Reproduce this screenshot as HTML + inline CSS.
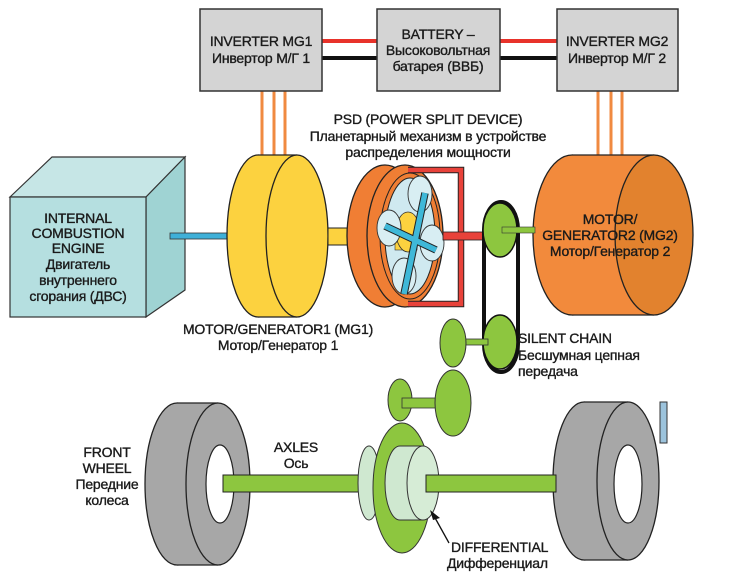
<!DOCTYPE html>
<html><head><meta charset="utf-8"><style>
html,body{margin:0;padding:0;background:#fff;}
svg{display:block;}
text{font-family:"Liberation Sans","DejaVu Sans",sans-serif;font-size:14px;fill:#1a1a1a;stroke:#1a1a1a;stroke-width:0.35;text-anchor:middle;letter-spacing:-0.2px;}
</style></head><body>
<svg width="740" height="579" viewBox="0 0 740 579" xmlns="http://www.w3.org/2000/svg">
<rect width="740" height="579" fill="#fff"/>
<line x1="322" y1="41" x2="377" y2="41" stroke="#e8322a" stroke-width="4"/>
<line x1="322" y1="58" x2="377" y2="58" stroke="#111" stroke-width="4"/>
<line x1="500" y1="41" x2="557" y2="41" stroke="#e8322a" stroke-width="4"/>
<line x1="500" y1="58" x2="557" y2="58" stroke="#111" stroke-width="4"/>
<g stroke="#f08a40" stroke-width="3">
<line x1="262" y1="91" x2="262" y2="158"/><line x1="274" y1="91" x2="274" y2="158"/><line x1="285" y1="91" x2="285" y2="158"/>
<line x1="598" y1="91" x2="598" y2="158"/><line x1="611" y1="91" x2="611" y2="158"/><line x1="622" y1="91" x2="622" y2="158"/>
</g>
<g fill="#d4d4d4" stroke="#333" stroke-width="1.5">
<rect x="200" y="9" width="122" height="82"/>
<rect x="377" y="9" width="123" height="82"/>
<rect x="557" y="9" width="121" height="82"/>
</g>
<text x="261" y="46">INVERTER MG1</text><text x="261" y="63">Инвертор М/Г 1</text>
<text x="438" y="39">BATTERY –</text><text x="438" y="55">Высоковольтная</text><text x="438" y="71">батарея (ВВБ)</text>
<text x="617" y="46">INVERTER MG2</text><text x="617" y="63">Инвертор М/Г 2</text>
<text x="428" y="124">PSD (POWER SPLIT DEVICE)</text>
<text x="428" y="141">Планетарный механизм в устройстве</text>
<text x="428" y="157">распределения мощности</text>
<polygon points="10,197 52,157 185,157 146,197" fill="#c6e6e6" stroke="#333" stroke-width="1.2"/>
<polygon points="146,197 185,157 185,290 146,317" fill="#9fd3d3" stroke="#333" stroke-width="1.2"/>
<rect x="10" y="197" width="136" height="120" fill="#b5dfe0" stroke="#333" stroke-width="1.2"/>
<text x="78" y="223">INTERNAL</text><text x="78" y="238">COMBUSTION</text><text x="78" y="253">ENGINE</text>
<text x="78" y="269">Двигатель</text><text x="78" y="285">внутреннего</text><text x="78" y="301">сгорания (ДВС)</text>
<rect x="170" y="233" width="57" height="6" fill="#3fb0d8" stroke="#333" stroke-width="0.8"/>
<ellipse cx="258" cy="236" rx="31" ry="81" fill="#fcd23f" stroke="#222" stroke-width="1.3"/>
<rect x="258" y="155" width="39" height="162" fill="#fcd23f"/>
<line x1="258" y1="155" x2="297" y2="155" stroke="#222" stroke-width="1.3"/>
<line x1="258" y1="317" x2="297" y2="317" stroke="#222" stroke-width="1.3"/>
<ellipse cx="297" cy="236" rx="31" ry="81" fill="#fcd23f" stroke="#222" stroke-width="1.3"/>
<rect x="328" y="228" width="20" height="17" fill="#fcd23f" stroke="#222" stroke-width="1"/>
<text x="278" y="334">MOTOR/GENERATOR1 (MG1)</text><text x="278" y="350">Мотор/Генератор 1</text>
<ellipse cx="385" cy="236" rx="38" ry="71" fill="#f07e34" stroke="#222" stroke-width="1.3"/>
<ellipse cx="405" cy="236" rx="38" ry="71" fill="#f07e34" stroke="#222" stroke-width="1.3"/>
<ellipse cx="410" cy="236" rx="30" ry="63" fill="#f07e34" stroke="#222" stroke-width="1"/>
<ellipse cx="410" cy="236" rx="25" ry="58" fill="#cfe9f0" stroke="#222" stroke-width="1"/>
<rect x="395" y="220" width="22" height="30" fill="#fcd23f" stroke="#333" stroke-width="0.6"/>
<ellipse cx="408" cy="232" rx="12" ry="20" fill="#fcd23f" stroke="#333" stroke-width="0.8"/>
<g fill="#d8eef3" stroke="#333" stroke-width="0.9">
<ellipse cx="420" cy="194" rx="12" ry="18"/>
<ellipse cx="389" cy="228" rx="12" ry="18"/>
<ellipse cx="432" cy="243" rx="12" ry="18"/>
<ellipse cx="404" cy="276" rx="12" ry="18"/>
</g>
<g stroke="#222" stroke-width="7.5"><line x1="425" y1="193" x2="404" y2="294"/><line x1="385" y1="226" x2="436" y2="250"/></g>
<g stroke="#3fb8d8" stroke-width="5.5"><line x1="425" y1="193" x2="404" y2="294"/><line x1="385" y1="226" x2="436" y2="250"/></g>
<path d="M408,170 H461 V304 H408" fill="none" stroke="#222" stroke-width="6.5"/>
<path d="M408,170 H461 V304 H408" fill="none" stroke="#e8423a" stroke-width="4.5"/>
<rect x="443" y="232" width="42" height="8" fill="#e8423a" stroke="#222" stroke-width="0.8"/>
<ellipse cx="572" cy="235" rx="39" ry="80" fill="#f28a3c" stroke="#222" stroke-width="1.3"/>
<rect x="572" y="155" width="82" height="160" fill="#f28a3c"/>
<line x1="572" y1="155" x2="654" y2="155" stroke="#222" stroke-width="1.3"/>
<line x1="572" y1="315" x2="654" y2="315" stroke="#222" stroke-width="1.3"/>
<ellipse cx="654" cy="235" rx="39" ry="80" fill="#e2822e" stroke="#222" stroke-width="1.3"/>
<rect x="484" y="202" width="34" height="170" rx="17" ry="28" fill="none" stroke="#111" stroke-width="4"/>
<ellipse cx="500" cy="230" rx="17" ry="27" fill="#8dc63f" stroke="#111" stroke-width="1.5"/>
<rect x="502" y="227" width="33" height="6" fill="#8dc63f" stroke="#333" stroke-width="0.6"/>
<ellipse cx="500" cy="342" rx="17" ry="27" fill="#8dc63f" stroke="#111" stroke-width="1.5"/>
<text x="610" y="224">MOTOR/</text><text x="610" y="240">GENERATOR2 (MG2)</text><text x="610" y="256">Мотор/Генератор 2</text>
<rect x="453" y="339" width="35" height="6" fill="#8dc63f" stroke="#333" stroke-width="0.8"/>
<ellipse cx="453" cy="343" rx="13" ry="24" fill="#8dc63f" stroke="#333" stroke-width="1"/>
<text x="518" y="343" style="text-anchor:start">SILENT CHAIN</text>
<text x="518" y="360" style="text-anchor:start">Бесшумная цепная</text>
<text x="518" y="376" style="text-anchor:start">передача</text>
<ellipse cx="400" cy="400" rx="12" ry="21" fill="#8dc63f" stroke="#333" stroke-width="1"/>
<rect x="402" y="398" width="36" height="10" fill="#8dc63f" stroke="#333" stroke-width="0.8"/>
<ellipse cx="453" cy="403" rx="18" ry="33" fill="#8dc63f" stroke="#333" stroke-width="1"/>
<ellipse cx="177" cy="484" rx="32" ry="81" fill="#a7a7a7" stroke="#222" stroke-width="1.3"/>
<rect x="177" y="403" width="41" height="162" fill="#a7a7a7"/>
<line x1="177" y1="403" x2="218" y2="403" stroke="#222" stroke-width="1.3"/>
<line x1="177" y1="565" x2="218" y2="565" stroke="#222" stroke-width="1.3"/>
<ellipse cx="218" cy="484" rx="32" ry="81" fill="#a7a7a7" stroke="#222" stroke-width="1.3"/>
<ellipse cx="220" cy="484" rx="14" ry="39" fill="#fff" stroke="#222" stroke-width="1.2"/>
<ellipse cx="584" cy="481" rx="31" ry="79" fill="#a7a7a7" stroke="#222" stroke-width="1.3"/>
<rect x="584" y="402" width="44" height="158" fill="#a7a7a7"/>
<line x1="584" y1="402" x2="628" y2="402" stroke="#222" stroke-width="1.3"/>
<line x1="584" y1="560" x2="628" y2="560" stroke="#222" stroke-width="1.3"/>
<ellipse cx="628" cy="481" rx="31" ry="79" fill="#a7a7a7" stroke="#222" stroke-width="1.3"/>
<ellipse cx="628" cy="484" rx="14" ry="39" fill="#fff" stroke="#222" stroke-width="1.2"/>
<rect x="660" y="402" width="7" height="41" fill="#9cc3dc" stroke="#333" stroke-width="1"/>
<rect x="223" y="475" width="138" height="17" fill="#8dc63f" stroke="#222" stroke-width="1"/>
<ellipse cx="369" cy="483" rx="11" ry="37" fill="#cfe8d0" stroke="#333" stroke-width="1"/>
<ellipse cx="402" cy="488" rx="29" ry="65" fill="#8dc63f" stroke="#333" stroke-width="1"/>
<ellipse cx="400" cy="483" rx="15" ry="37" fill="#cfe8d0" stroke="#333" stroke-width="1"/>
<rect x="400" y="446" width="23" height="74" fill="#cfe8d0"/>
<line x1="400" y1="446" x2="423" y2="446" stroke="#333"/><line x1="400" y1="520" x2="423" y2="520" stroke="#333"/>
<ellipse cx="423" cy="483" rx="16" ry="37" fill="#d6ecd6" stroke="#333" stroke-width="1"/>
<rect x="426" y="475" width="130" height="17" fill="#8dc63f" stroke="#222" stroke-width="1"/>
<text x="296" y="452">AXLES</text><text x="296" y="468">Ось</text>
<text x="107" y="457">FRONT</text><text x="107" y="473">WHEEL</text><text x="107" y="489">Передние</text><text x="107" y="505">колеса</text>
<line x1="449" y1="543" x2="434" y2="516" stroke="#111" stroke-width="1.3"/>
<polygon points="430,510 440,518 433,520" fill="#111"/>
<text x="451" y="552" style="text-anchor:start">DIFFERENTIAL</text>
<text x="447" y="568" style="text-anchor:start">Дифференциал</text>
</svg>
</body></html>
